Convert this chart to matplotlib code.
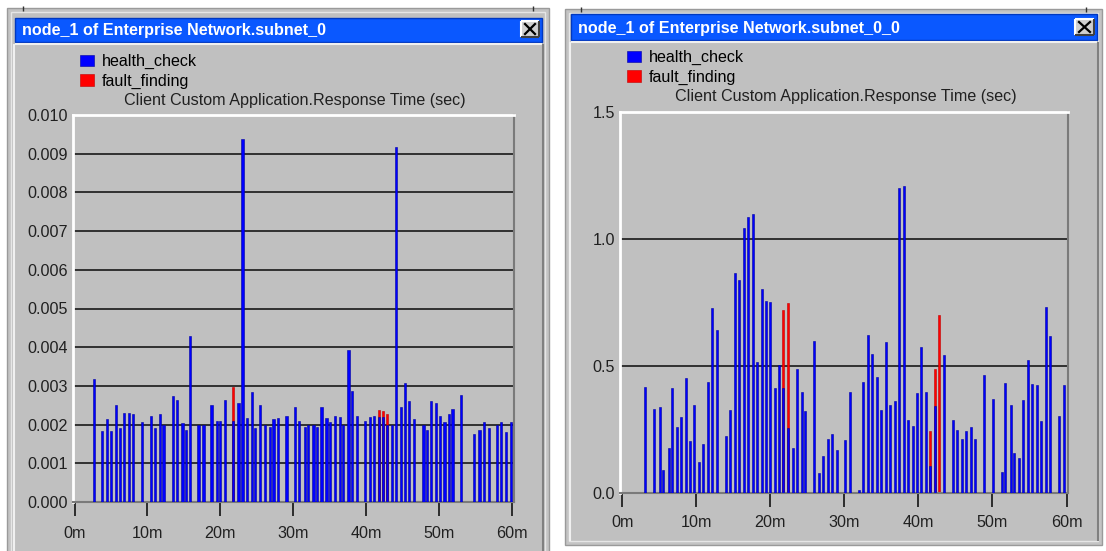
import matplotlib
matplotlib.use('Agg')
import matplotlib.pyplot as plt
from matplotlib.patches import Rectangle

plt.rcParams['font.family'] = ['Liberation Sans', 'DejaVu Sans']

W, H = 1106, 551
FS = 11.6
GREY = '#c0c0c0'
TITLE_BLUE = '#0a58ff'

# ---- left window data (response time in sec, time in minutes)
left_title = 'node_1 of Enterprise Network.subnet_0'
left_hc_t = [2.65, 3.75, 4.4, 5.0, 5.7, 6.2, 6.8, 7.5, 8.0, 9.3,
             10.5, 11.0, 11.7, 12.2, 13.5, 14.0, 14.8, 15.3, 15.8, 17.0,
             17.7, 18.8, 19.5, 20.0, 20.7, 21.8, 22.5, 23.05, 23.7, 24.3,
             24.8, 25.5, 26.1, 26.8, 27.3, 27.9, 29.1, 30.3, 30.8, 31.6,
             32.1, 32.8, 33.3, 33.9, 34.6, 35.1, 35.8, 36.4, 36.9, 37.6,
             38.1, 38.8, 39.9, 40.6, 41.1, 41.8, 42.4, 42.9, 43.6, 44.1,
             44.8, 45.4, 45.9, 46.6, 47.9, 48.4, 48.9, 49.6, 50.2, 50.8,
             51.4, 51.9, 53.1, 54.9, 55.6, 56.2, 56.9, 58.0, 58.6, 59.2,
             59.9]
left_hc_v = [0.00317, 0.00183, 0.00214, 0.00183, 0.00250, 0.00190, 0.00229, 0.00229, 0.00227, 0.00207,
             0.00223, 0.00190, 0.00227, 0.00199, 0.00273, 0.00264, 0.00203, 0.00187, 0.00430, 0.00199,
             0.00199, 0.00250, 0.00210, 0.00210, 0.00264, 0.00210, 0.00257, 0.00938, 0.00216, 0.00283,
             0.00190, 0.00250, 0.00200, 0.00194, 0.00214, 0.00216, 0.00223, 0.00246, 0.00210, 0.00194,
             0.00199, 0.00199, 0.00194, 0.00246, 0.00216, 0.00207, 0.00223, 0.00220, 0.00199, 0.00393,
             0.00287, 0.00223, 0.00210, 0.00220, 0.00223, 0.00220, 0.00220, 0.00199, 0.00199, 0.00917,
             0.00246, 0.00307, 0.00260, 0.00214, 0.00199, 0.00187, 0.00260, 0.00257, 0.00223, 0.00207,
             0.00227, 0.00240, 0.00276, 0.00177, 0.00187, 0.00207, 0.00190, 0.00200, 0.00207, 0.00180,
             0.00207]
left_ff_t = [21.8, 41.8, 42.4, 42.9]
left_ff_v = [0.00296, 0.00237, 0.00234, 0.00227]
left_yticks = [0.000, 0.001, 0.002, 0.003, 0.004, 0.005, 0.006, 0.007, 0.008, 0.009, 0.010]
left_ylabels = ['%.3f' % v for v in left_yticks]

# ---- right window data
right_title = 'node_1 of Enterprise Network.subnet_0_0'
right_hc_t = [3.12, 4.34, 5.07, 5.55, 6.28, 6.77, 7.45, 7.99, 8.66, 9.20,
              9.74, 10.42, 10.96, 11.64, 12.14, 12.85, 14.03, 14.57, 15.24, 15.78,
              16.46, 17.00, 17.68, 18.18, 18.89, 19.39, 19.93, 20.61, 21.15, 21.77,
              22.36, 23.04, 23.58, 24.26, 24.74, 25.96, 26.64, 27.18, 27.85, 28.39,
              29.07, 30.11, 30.82, 32.00, 32.54, 33.22, 33.76, 34.43, 34.97, 35.65,
              36.19, 36.86, 37.41, 38.08, 38.62, 39.30, 39.80, 40.34, 41.01, 41.50,
              42.23, 43.45, 44.66, 45.20, 45.88, 46.42, 47.09, 47.64, 48.80, 50.01,
              51.23, 51.73, 52.45, 52.95, 53.62, 54.16, 54.84, 55.38, 56.05, 56.59,
              57.27, 57.81, 59.03, 59.70]
right_hc_v = [0.417, 0.332, 0.339, 0.089, 0.178, 0.413, 0.258, 0.298, 0.453, 0.203,
              0.348, 0.123, 0.193, 0.438, 0.728, 0.643, 0.224, 0.328, 0.867, 0.837,
              1.042, 1.087, 1.097, 0.517, 0.802, 0.757, 0.752, 0.413, 0.502, 0.413,
              0.256, 0.178, 0.488, 0.398, 0.324, 0.597, 0.079, 0.144, 0.213, 0.232,
              0.171, 0.207, 0.398, 0.013, 0.438, 0.623, 0.547, 0.458, 0.328, 0.593,
              0.348, 0.363, 1.200, 1.210, 0.289, 0.264, 0.394, 0.573, 0.398, 0.105,
              0.344, 0.543, 0.289, 0.249, 0.214, 0.244, 0.258, 0.214, 0.463, 0.372,
              0.084, 0.433, 0.348, 0.159, 0.139, 0.367, 0.522, 0.430, 0.425, 0.283,
              0.732, 0.618, 0.303, 0.425]
right_ff_t = [21.77, 22.36, 41.50, 42.23, 42.77]
right_ff_v = [0.722, 0.750, 0.245, 0.488, 0.702]
right_yticks = [0.0, 0.5, 1.0, 1.5]
right_ylabels = ['0.0', '0.5', '1.0', '1.5']

xticks = [0, 10, 20, 30, 40, 50, 60]
xlabels = ['%dm' % v for v in xticks]
chart_title = 'Client Custom Application.Response Time (sec)'


def box(x0, y0, x1, y1):
    return [x0 / W, 1 - y1 / H, (x1 - x0) / W, (y1 - y0) / H]


def rect(ax, x0, y0, x1, y1, fc, ec='none', lw=1):
    ax.add_patch(Rectangle((x0, y0), x1 - x0, y1 - y0, facecolor=fc,
                           edgecolor=ec, linewidth=lw))


def hline(ax, x0, x1, y, c, lw=1):
    ax.plot([x0, x1], [y, y], color=c, lw=lw, solid_capstyle='butt')


def vline(ax, x, y0, y1, c, lw=1):
    ax.plot([x, x], [y0, y1], color=c, lw=lw, solid_capstyle='butt')


def window(ax, outer, bar, close, title):
    x0, y0, x1, y1 = outer
    rect(ax, x0, y0, x1, y1, '#c4c4c4', '#9a9a9a')
    rect(ax, x0 + 4, y0 + 4, x1 - 4, y1 - 4, GREY, '#e6e6e6')
    bx0, by0, bx1, by1 = bar
    rect(ax, bx0, by0, bx1, by1, TITLE_BLUE, '#0038c0')
    hline(ax, bx0, bx1, by1 + 2, '#f0f0f0', 1.5)
    vline(ax, bx0 - 1, by1 + 2, y1 - 4, '#f0f0f0', 1.5)
    vline(ax, bx1 + 1, by1 + 2, y1 - 4, '#808080', 1.5)
    ax.text(bx0 + 7, (by0 + by1) / 2 + 1, title, color='white', fontsize=FS,
            fontweight='bold', va='center', ha='left')
    cx0, cy0, cx1, cy1 = close
    rect(ax, cx0, cy0, cx1, cy1, '#d0d0d0')
    hline(ax, cx0, cx1, cy0, 'white', 1.5)
    vline(ax, cx0, cy0, cy1, 'white', 1.5)
    hline(ax, cx0, cx1, cy1, '#404040', 1.5)
    vline(ax, cx1, cy0, cy1, '#404040', 1.5)
    m = 4
    ax.plot([cx0 + m, cx1 - m], [cy0 + m - 1, cy1 - m + 1], color='black', lw=1.6)
    ax.plot([cx0 + m, cx1 - m], [cy1 - m + 1, cy0 + m - 1], color='black', lw=1.6)
    # resize handle ticks on the frame
    for tx in (x0 + 16, x1 - 16):
        vline(ax, tx, y0 - 2, y0 + 3, '#303030', 1)


def chart(fig, px, t_hc, v_hc, t_ff, v_ff, xlim, ylim, yticks, ylabels,
          barw, leg_xy, title_xy, xpad):
    ax = fig.add_axes(box(*px))
    ax.set_facecolor(GREY)
    red = ax.bar(t_ff, v_ff, width=barw, color='#ff0000', edgecolor='#c00000',
                 linewidth=0.4, zorder=2, label='fault_finding')
    blue = ax.bar(t_hc, v_hc, width=barw, color='#0000ff', edgecolor='#0000a0',
                  linewidth=0.4, zorder=3, label='health_check')
    ax.set_xlim(*xlim)
    ax.set_ylim(*ylim)
    ax.set_yticks(yticks)
    ax.set_yticklabels(ylabels)
    ax.set_xticks(xticks)
    ax.set_xticklabels(xlabels)
    ax.set_axisbelow(True)
    ax.yaxis.grid(True, color='#181818', lw=1.2)
    ax.tick_params(axis='y', length=0, pad=3.6, labelsize=FS, labelcolor='#202020')
    ax.tick_params(axis='x', direction='out', length=10, width=1.3,
                   color='#202020', pad=xpad, labelsize=FS, labelcolor='#202020')
    for s in ('top', 'left'):
        ax.spines[s].set_color('white')
        ax.spines[s].set_linewidth(2)
    for s in ('bottom', 'right'):
        ax.spines[s].set_color('#7a7a7a')
        ax.spines[s].set_linewidth(1.5)
    ax.legend(handles=[blue, red], loc='upper left',
              bbox_to_anchor=(leg_xy[0] / W, 1 - leg_xy[1] / H),
              bbox_transform=fig.transFigure, frameon=False, fontsize=FS,
              handlelength=0.85, handleheight=0.72, handletextpad=0.5,
              labelspacing=0.27, borderpad=0, borderaxespad=0)
    fig.text(title_xy[0] / W, 1 - title_xy[1] / H, chart_title, fontsize=FS,
             color='#202020', ha='left', va='center')
    return ax


fig = plt.figure(figsize=(W / 100, H / 100), dpi=100)
fig.patch.set_facecolor('white')

bg = fig.add_axes([0, 0, 1, 1])
bg.set_xlim(0, W)
bg.set_ylim(H, 0)
bg.axis('off')

window(bg, (7, 8, 549, 565), (15, 18, 542, 42), (521, 21, 539, 37), left_title)
window(bg, (565, 9, 1102, 545), (571, 14, 1097, 40), (1075, 19, 1094, 35), right_title)

chart(fig, (73, 115, 514, 502), left_hc_t, left_hc_v, left_ff_t, left_ff_v,
      (-0.23, 60.34), (0, 0.010), left_yticks, left_ylabels, 0.3,
      (80, 54), (124, 100), 7)
chart(fig, (620, 112, 1068, 493), right_hc_t, right_hc_v, right_ff_t, right_ff_v,
      (-0.3, 60.2), (0, 1.5), right_yticks, right_ylabels, 0.27,
      (627, 50), (675, 97), 6)

fig.savefig('out.png', dpi=100)
